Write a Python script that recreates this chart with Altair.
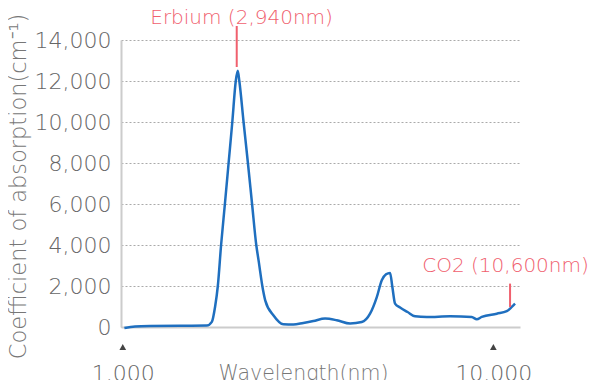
import altair as alt
import pandas as pd

# Absorption curve (wavelength in nm, coefficient in cm^-1)
wavelength_nm = [1010, 1079, 1185, 1427, 1685, 1739, 1775, 1805, 1842, 1886, 1930, 1975,
                 2018, 2043, 2063, 2118, 2176, 2233, 2292, 2325, 2391, 2423, 2549, 2713,
                 2886, 3071, 3268, 3515, 3779, 4106, 4414, 4648, 4847, 4999, 5134, 5263,
                 5339, 5429, 5601, 5868, 6148, 6612, 7641, 8744, 9020, 9305, 10214, 10869,
                 11212, 11443]
absorption = [-50, 30, 50, 60, 70, 250, 1000, 2000, 4000, 6000, 8000, 10000,
              12000, 12500, 12000, 10000, 8000, 6000, 4000, 3250, 1790, 1300, 570, 130,
              120, 200, 290, 410, 330, 170, 240, 650, 1460, 2280, 2570, 2640,
              1950, 1140, 950, 730, 520, 490, 520, 490, 375, 490, 650, 770,
              980, 1140]

# Annotations
ann_label = ["Erbium (2,940nm)", "CO2 (10,600nm)"]
ann_x = [2030, 11093]
ann_text_x = [2092, 10786]
ann_y_low = [12683, 976]
ann_y_high = [14683, 2117]
ann_text_y = [14780, 2707]

# Axis ticks
x_tick_values = [1000, 10000]
x_tick_labels = ["1,000", "10,000"]
y_tick_values = [0, 2000, 4000, 6000, 8000, 10000, 12000, 14000]

FONT = "DejaVu Sans"
WEIGHT = 200
RED = "#f0606e"
BLUE = "#1f6fbf"

curve = pd.DataFrame({"wl": wavelength_nm, "abs": absorption})
ann = pd.DataFrame({"label": ann_label, "x": ann_x, "tx": ann_text_x,
                    "y1": ann_y_low, "y2": ann_y_high, "ty": ann_text_y})
ticks = pd.DataFrame({"v": x_tick_values, "lab": x_tick_labels})

label_expr = " : ".join(
    [f"datum.value == {v} ? '{l}'" for v, l in zip(x_tick_values, x_tick_labels)] + ["''"]
)

xscale = alt.Scale(type="log", domain=[989, 11800], nice=False)
yscale = alt.Scale(domain=[0, 14000], nice=False)

x_axis = alt.Axis(
    values=x_tick_values, labelExpr=label_expr, grid=False, ticks=False,
    domain=True, domainColor="#cccccc", domainWidth=2,
    labelFont=FONT, labelFontWeight=WEIGHT, labelFontSize=22, labelColor="#666666",
    labelPadding=36, labelBaseline="top", labelFlush=False,
    title="Wavelength(nm)", titleFont=FONT, titleFontSize=20.5, titleFontWeight=WEIGHT,
    titleColor="#777777", titleX=182, titleY=36, titleAlign="center", titleBaseline="top",
)
y_axis = alt.Axis(
    values=y_tick_values, format=",d", grid=True, gridColor="#aaaaaa",
    gridDash=[2, 2], gridWidth=1, ticks=False,
    domain=True, domainColor="#cccccc", domainWidth=2,
    labelFont=FONT, labelFontWeight=WEIGHT, labelFontSize=22, labelColor="#666666",
    labelPadding=10,
    title="Coefficient of absorption(cm⁻¹)", titleFont=FONT, titleFontSize=22.5,
    titleFontWeight=WEIGHT, titleColor="#777777",
    titleX=-103, titleY=146, titleAngle=270, titleAlign="center", titleBaseline="middle",
)

line = alt.Chart(curve).mark_line(color=BLUE, strokeWidth=2.5, interpolate="monotone").encode(
    x=alt.X("wl:Q", scale=xscale, axis=x_axis),
    y=alt.Y("abs:Q", scale=yscale, axis=y_axis),
)

rules = alt.Chart(ann).mark_rule(color=RED, strokeWidth=2).encode(
    x=alt.X("x:Q", scale=xscale),
    y=alt.Y("y1:Q", scale=yscale),
    y2="y2:Q",
)

texts = alt.Chart(ann).mark_text(color=RED, font=FONT, fontWeight=WEIGHT, fontSize=20,
                                 baseline="alphabetic", align="center").encode(
    x=alt.X("tx:Q", scale=xscale),
    y=alt.Y("ty:Q", scale=yscale),
    text="label:N",
)

tri = alt.Chart(ticks).mark_point(shape="triangle-up", filled=True, size=45,
                                  color="#444444", opacity=1).encode(
    x=alt.X("v:Q", scale=xscale),
    y=alt.value(307),
)

chart = alt.layer(line, rules, texts, tri).properties(
    width=399, height=287,
    autosize=alt.AutoSizeParams(type="none"),
    padding={"left": 113, "top": 32, "right": 72, "bottom": 53},
).configure_view(stroke=None)

chart.save("out.html", embed_options={"renderer": "svg", "actions": False})
